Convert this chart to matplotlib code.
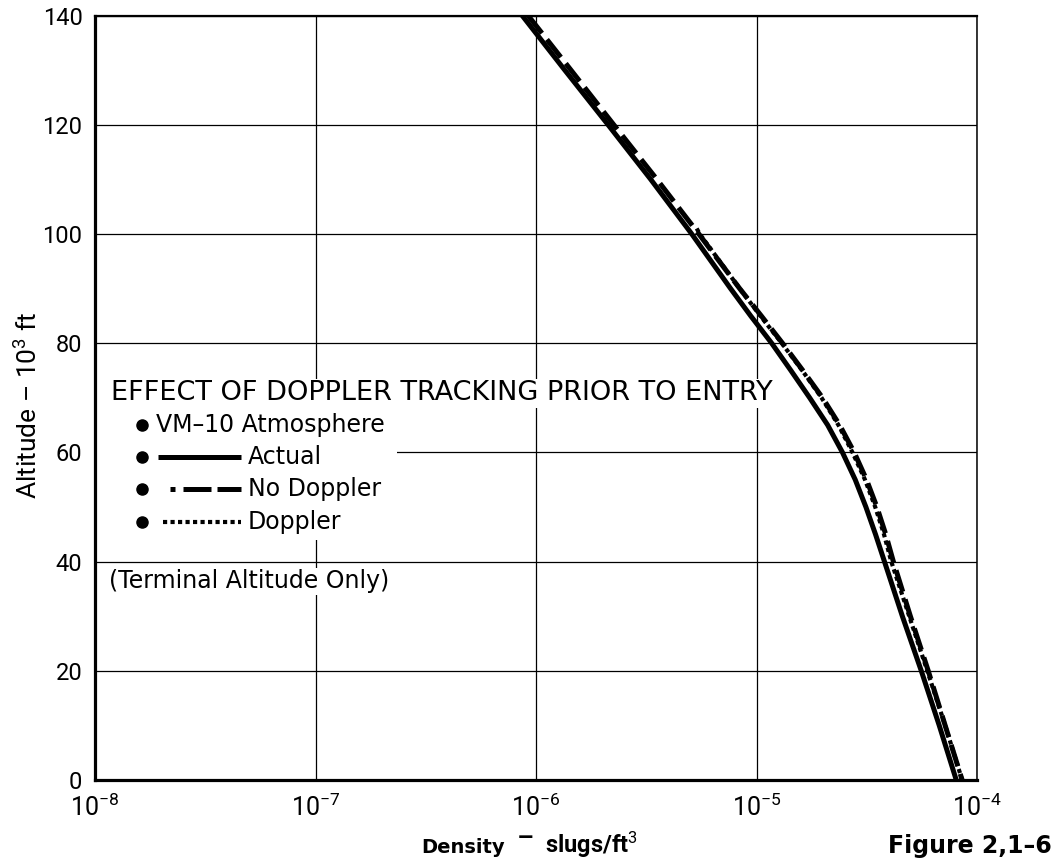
import numpy as np
import matplotlib
matplotlib.use("Agg")
import matplotlib.pyplot as plt
from matplotlib.patches import Rectangle

plt.rcParams["font.family"] = ["Roboto", "DejaVu Sans"]
plt.rcParams["mathtext.fontset"] = "custom"
plt.rcParams["mathtext.rm"] = "Roboto"
plt.rcParams["mathtext.it"] = "Roboto"
plt.rcParams["mathtext.bf"] = "Roboto:bold"

# altitude in 10^3 ft, density in slugs/ft^3 (VM-10 atmosphere)
alt = [140, 130, 120, 110, 100, 90, 85, 80, 75, 70, 65, 60, 55, 50, 45, 40,
       30, 20, 10, 0]
rho_actual = [8.65e-7, 1.35e-6, 2.12e-6, 3.31e-6, 5.08e-6, 7.62e-6, 9.4e-6,
              1.17e-5, 1.43e-5, 1.74e-5, 2.10e-5, 2.45e-5, 2.80e-5, 3.13e-5,
              3.46e-5, 3.80e-5, 4.58e-5, 5.58e-5, 6.73e-5, 8.04e-5]
rho_no_doppler = [9.2e-7, 1.44e-6, 2.25e-6, 3.53e-6, 5.47e-6, 8.38e-6, 1.05e-5,
                  1.31e-5, 1.62e-5, 1.99e-5, 2.38e-5, 2.77e-5, 3.15e-5, 3.51e-5,
                  3.85e-5, 4.17e-5, 4.98e-5, 6.00e-5, 7.16e-5, 8.55e-5]
alt_doppler = [101, 100, 90, 85, 80, 75, 70, 65, 60, 55, 50, 45, 40, 30, 20, 10, 0]
rho_doppler = [5.35e-6, 5.52e-6, 8.38e-6, 1.04e-5, 1.30e-5, 1.61e-5, 1.97e-5,
               2.35e-5, 2.72e-5, 3.10e-5, 3.45e-5, 3.78e-5, 4.08e-5, 4.92e-5,
               5.94e-5, 7.16e-5, 8.55e-5]

x_ticks = [1e-8, 1e-7, 1e-6, 1e-5, 1e-4]
x_labels = [r"$10^{-8}$", r"$10^{-7}$", r"$10^{-6}$", r"$10^{-5}$", r"$10^{-4}$"]
y_ticks = [0, 20, 40, 60, 80, 100, 120, 140]

fig = plt.figure(figsize=(10.59, 8.63), dpi=100)
ax = fig.add_axes([0.0897, 0.0962, 0.833, 0.8858])

ax.set_xscale("log")
ax.set_xlim(1e-8, 1e-4)
ax.set_ylim(0, 140)
ax.set_xticks(x_ticks)
ax.set_xticklabels(x_labels, fontsize=18)
ax.set_yticks(y_ticks)
ax.set_yticklabels([str(v) for v in y_ticks], fontsize=17)
ax.minorticks_off()
ax.tick_params(axis="y", length=0, pad=9)
ax.tick_params(axis="x", length=0, pad=10)
ax.set_axisbelow(True)
ax.grid(True, color="black", linewidth=0.9)

for side, lw in [("left", 2.3), ("bottom", 2.3), ("top", 1.6), ("right", 1.1)]:
    ax.spines[side].set_linewidth(lw)

ax.plot(rho_actual, alt, color="black", lw=3.6, solid_capstyle="butt",
        solid_joinstyle="round", zorder=3)
ax.plot(rho_no_doppler, alt, color="black", lw=3.6, dashes=(4.5, 1.6),
        dash_capstyle="butt", zorder=3)
ax.plot(rho_doppler, alt_doppler, color="black", lw=3.0, dashes=(1.0, 0.8),
        dash_capstyle="butt", zorder=4)

# white panel behind the key so the grid does not show through
ax.add_patch(Rectangle((0.002, 0.314), 0.34, 0.205, transform=ax.transAxes,
                       facecolor="white", edgecolor="none", zorder=1))

key_font = "DejaVu Sans"
tb = dict(facecolor="white", edgecolor="none", pad=1)
ax.text(0.018, 0.506, "EFFECT OF DOPPLER TRACKING PRIOR TO ENTRY",
        transform=ax.transAxes, fontsize=19.5, family=key_font,
        va="center", ha="left", bbox=tb, zorder=5)

rows_y = [0.464, 0.4225, 0.381, 0.3375]
for yy in rows_y:
    ax.plot([0.053], [yy], marker="o", ms=8, color="black",
            transform=ax.transAxes, zorder=5, clip_on=False)

ax.text(0.069, rows_y[0], "VM\u201310 Atmosphere", transform=ax.transAxes,
        fontsize=17, family=key_font, va="center", ha="left", zorder=5)

ax.plot([0.0714, 0.1655], [rows_y[1]] * 2, color="black", lw=3.6,
        solid_capstyle="butt", transform=ax.transAxes, zorder=5)
ax.text(0.1735, rows_y[1], "Actual", transform=ax.transAxes,
        fontsize=17, family=key_font, va="center", ha="left", zorder=5)

ax.plot([0.085, 0.0905], [rows_y[2]] * 2, color="black", lw=3.6,
        solid_capstyle="butt", transform=ax.transAxes, zorder=5)
ax.plot([0.1, 0.131], [rows_y[2]] * 2, color="black", lw=3.6,
        solid_capstyle="butt", transform=ax.transAxes, zorder=5)
ax.plot([0.138, 0.1655], [rows_y[2]] * 2, color="black", lw=3.6,
        solid_capstyle="butt", transform=ax.transAxes, zorder=5)
ax.text(0.1735, rows_y[2], "No Doppler", transform=ax.transAxes,
        fontsize=17, family=key_font, va="center", ha="left", zorder=5)

ax.plot([0.0775, 0.1655], [rows_y[3]] * 2, color="black", lw=3.0,
        dashes=(1.0, 0.8), dash_capstyle="butt", transform=ax.transAxes, zorder=5)
ax.text(0.1735, rows_y[3], "Doppler", transform=ax.transAxes,
        fontsize=17, family=key_font, va="center", ha="left", zorder=5)

ax.text(0.016, 0.26, "(Terminal Altitude Only)", transform=ax.transAxes,
        fontsize=17, family=key_font, va="center", ha="left", bbox=tb, zorder=5)

fig.text(28 / 1059, 1 - 405 / 863, "Altitude \u2013 10$^3$ ft", rotation=90,
         fontsize=19, ha="center", va="center")

base = 1 - 853 / 863
fig.text(505 / 1059, base, "Density", fontsize=14, fontweight="bold",
         family="DejaVu Sans", ha="right", va="baseline")
fig.text(526 / 1059, base + 0.012, "\u2012", fontsize=16, fontweight="bold",
         family="DejaVu Sans", ha="center", va="baseline")
fig.text(545 / 1059, base, "slugs/ft$^3$", fontsize=17, fontweight="bold",
         ha="left", va="baseline")
fig.text(1052 / 1059, base, "Figure 2,1\u20136", fontsize=17, fontweight="bold",
         family="DejaVu Sans", ha="right", va="baseline")

fig.savefig("out.png", dpi=100)
